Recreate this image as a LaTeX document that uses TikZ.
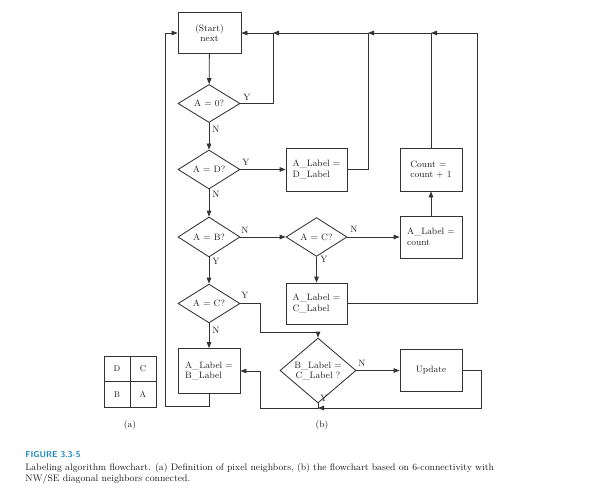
\documentclass[tikz,border=0pt]{standalone}
\usepackage{fontspec}
\usetikzlibrary{shapes.geometric,arrows.meta}
\definecolor{ln}{HTML}{333333}
\definecolor{txt}{HTML}{1E1E1E}
\definecolor{capblue}{HTML}{1E87C0}
\begin{document}
\begin{tikzpicture}[x=1pt,y=-1pt,line width=0.85pt,color=ln,
  box/.style={draw=ln, rectangle, minimum width=62pt, minimum height=42pt, inner sep=2pt, align=left, text=txt, font=\fontsize{9.2}{10.5}\selectfont},
  dia/.style={draw=ln, diamond, minimum width=62pt, minimum height=38pt, inner sep=0pt, align=center, text=txt, font=\fontsize{9.2}{10}\selectfont},
  arr/.style={-{Triangle[length=6pt,width=4.6pt]}},
  lab/.style={inner sep=0pt, text=txt, font=\fontsize{9.2}{10}\selectfont},
  cell/.style={draw=ln, rectangle, minimum width=26pt, minimum height=25.5pt, inner sep=0pt, text=txt, font=\fontsize{8.5}{10}\selectfont},
  captext/.style={anchor=base west, inner sep=0pt, text=txt, font=\fontsize{9.45}{11}\selectfont}]
\fill[white] (0,0) rectangle (593,489);
\useasboundingbox (0,0) rectangle (593,489);
% nodes
\node[box, align=center, minimum width=63pt, minimum height=41pt] (start) at (209.5,33) {(Start)\\next};
\node[dia] (d0) at (209,103.5) {A = 0?};
\node[dia, minimum height=39pt] (dD) at (209,169.5) {A = D?};
\node[dia, minimum height=40pt] (dB) at (209,237) {A = B?};
\node[dia, minimum height=37pt] (dC1) at (209,303.5) {A = C?};
\node[box, minimum height=45pt] (bB) at (209,371) {A\_Label =\\B\_Label};
\node[box, minimum width=61pt, minimum height=43pt] (bD) at (316.5,169.5) {A\_Label =\\D\_Label};
\node[dia, minimum width=61pt, minimum height=37pt] (dC2) at (316.5,237) {A = C?};
\node[box, minimum width=61pt, minimum height=41pt] (bC) at (316.5,303.5) {A\_Label =\\C\_Label};
\node[box] (bCount) at (431,237) {A\_Label =\\count};
\node[box, minimum height=43pt] (bInc) at (431,169.5) {Count =\\count + 1};
\node[dia, minimum width=76pt, minimum height=47pt] (dBC) at (318,370.5) {B\_Label =\\C\_Label ?};
\node[box, align=center] (bUp) at (431,370.5) {Update};
% junctions
\coordinate (j1) at (273,33);
\coordinate (j2) at (368,33);
\coordinate (j3) at (431,33);
\coordinate (j4) at (477,33);
\coordinate (k1) at (260,332);
\coordinate (l1) at (165,406);
\coordinate (m1) at (481,408);
\coordinate (m2) at (318,408);
\coordinate (m3) at (260,408);
% connectors
\draw[arr] (start) -- (d0);
\draw[arr] (d0) -- (dD);
\draw[arr] (dD) -- (dB);
\draw[arr] (dB) -- (dC1);
\draw[arr] (dC1) -- (bB);
\draw[arr] (dD) -- (bD);
\draw[arr] (dB) -- (dC2);
\draw[arr] (dC2) -- (bCount);
\draw[arr] (bCount) -- (bInc);
\draw[arr] (dC2) -- (bC);
\draw[arr] (dBC) -- (bUp);
\draw (d0.east) -| (j1);
\draw[arr] (j1) -- (start.east);
\draw (bD.east) -| (j2);
\draw[arr] (j2) -- (j1);
\draw (bInc.north) -- (j3);
\draw[arr] (j3) -- (j2);
\draw (bC.east) -| (j4);
\draw[arr] (j4) -- (j3);
\draw[arr] (dC1.east) -| (k1) -| (dBC.north);
\draw[arr] (bB.south) |- (l1) |- (start.west);
\draw[arr] (bUp.east) -| (m1) -- (m2);
\draw[arr] (dBC.south) -- (m2) -- (m3) |- (bB.east);
% Y/N labels
\node[lab] (y0) at (247,97) {Y};
\node[lab] (n0) at (216,129) {N};
\node[lab] (yD) at (246,162) {Y};
\node[lab] (nD) at (216,194) {N};
\node[lab] (nB) at (245,230) {N};
\node[lab] (yB) at (216,261) {Y};
\node[lab] (nC2) at (354,229) {N};
\node[lab] (yC2) at (324,259) {Y};
\node[lab] (yC1) at (245,295) {Y};
\node[lab] (nC1) at (216,330) {N};
\node[lab] (nBC) at (362,363) {N};
\node[lab] (yBC) at (324,398) {Y};
% neighbour grid (a)
\node[cell] (gD) at (117,368.75) {D};
\node[cell] (gC) at (143,368.75) {C};
\node[cell] (gB) at (117,394.25) {B};
\node[cell] (gA) at (143,394.25) {A};
\node[lab] (la) at (130,425) {(a)};
\node[lab] (lb) at (322,425) {(b)};
% caption
\node[anchor=base west, inner sep=0pt, text=capblue, font=\sffamily\bfseries\fontsize{8.5}{10}\selectfont] (cap0) at (25,457) {FIGURE 3.3-5};
\node[captext] (cap1) at (25,470.5) {Labeling algorithm flowchart. (a) Definition of pixel neighbors, (b) the flowchart based on 6-connectivity with};
\node[captext] (cap2) at (25,481.5) {NW/SE diagonal neighbors connected.};
\end{tikzpicture}
\end{document}
